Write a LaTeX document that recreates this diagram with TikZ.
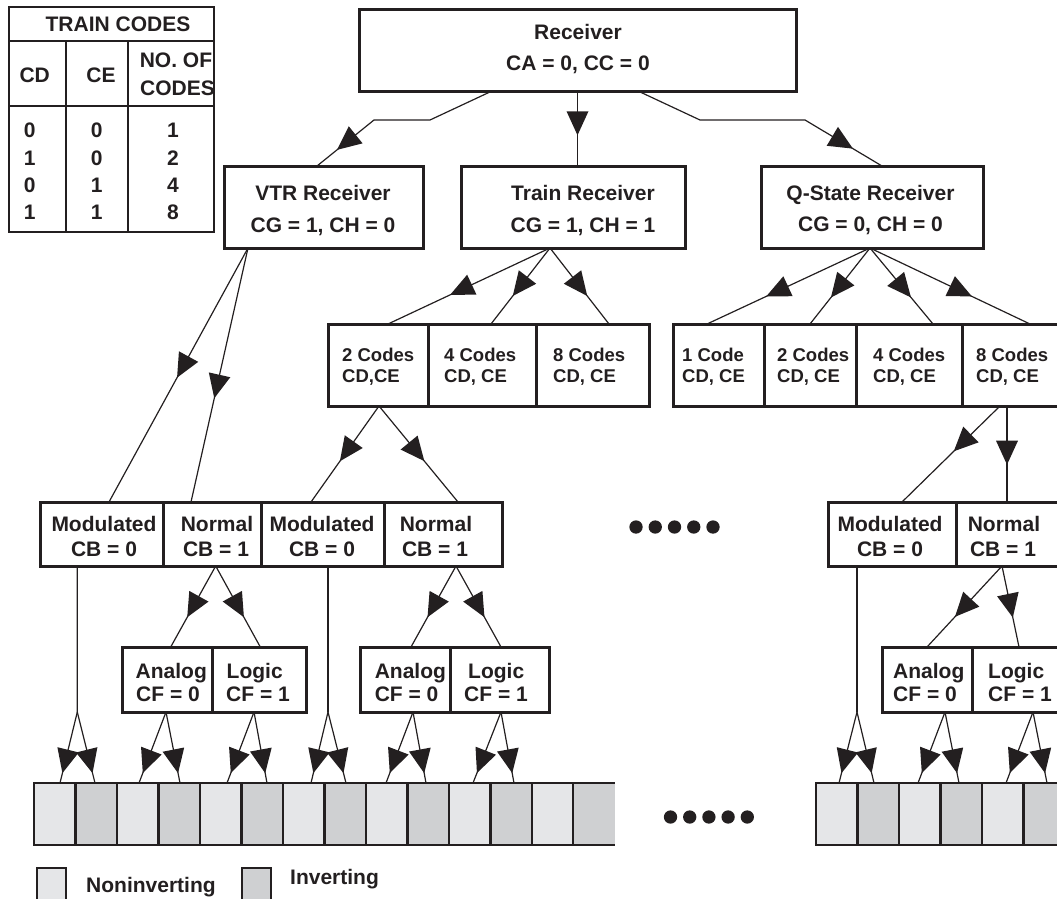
\documentclass[tikz,border=0pt]{standalone}
\usepackage{fontspec}
\setmainfont{Liberation Sans}
\usetikzlibrary{decorations.markings}
\definecolor{ink}{RGB}{35,31,32}
\definecolor{cellL}{RGB}{229,230,232}
\definecolor{cellD}{RGB}{207,208,210}
\begin{document}
\begin{tikzpicture}[x=1pt,y=-1pt,
  box/.style={draw=ink, line width=3pt, fill=white, inner sep=0pt, outer sep=0pt, minimum width=#1, minimum height=82pt},
  mbox/.style={box=#1, minimum height=64pt},
  abox/.style={box=#1, minimum height=65pt},
  conn/.style={draw=ink, line width=1.2pt},
  ma/.style={postaction={decorate}, decoration={markings, mark=at position #1 with {\fill[ink] (3pt,0pt) -- (-21pt,11pt) -- (-21pt,-11pt) -- cycle;}}},
  ma/.default=0.55,
  lbl/.style={font=\fontsize{21}{25}\selectfont\bfseries, text=ink, inner sep=0pt, text height=15pt, text depth=0pt},
  slbl/.style={font=\fontsize{18.5}{22}\selectfont\bfseries, text=ink, inner sep=0pt, text height=13.3pt, text depth=0pt, anchor=west},
  cellbox/.style={draw=ink, line width=2.5pt, inner sep=0pt, outer sep=0pt, minimum width=41.5pt, minimum height=62pt},
  dot/.style={circle, fill=ink, inner sep=0pt, minimum size=13.3pt}
]
\useasboundingbox (0,0) rectangle (1057,898);
\clip (0,0) rectangle (1057,898);

% ---------- table ----------
\draw[ink, line width=2.5pt] (9,7) rectangle (214,232);
\draw[ink, line width=1.8pt] (9,41) -- (214,41) (9,106) -- (214,106);
\draw[ink, line width=2pt] (66,41) -- (66,232) (128,41) -- (128,232);
\node[lbl] (tt) at (118,24) {TRAIN CODES};
\node[lbl] (tcd) at (34.7,75) {CD};
\node[lbl] (tce) at (101,75) {CE};
\node[lbl] (tno) at (176,60) {NO. OF};
\node[lbl] (tcodes) at (177.5,88) {CODES};
\foreach \r/\y/\a/\b/\c in {1/130/0/0/1, 2/158/1/0/2, 3/185/0/1/4, 4/212/1/1/8}{
  \node[lbl] (ta\r) at (29.7,\y) {\a};
  \node[lbl] (tb\r) at (96.7,\y) {\b};
  \node[lbl] (tc\r) at (173,\y) {\c};
}

% ---------- boxes ----------
\node[box=437pt] (rcv) at (577.5,50) {};
\node[box=199pt] (vtr) at (323.5,207) {};
\node[box=224pt] (trn) at (573,207) {};
\node[box=222pt] (qst) at (872,207) {};

\node[box=100pt] (c2) at (378,365) {};
\node[box=108pt] (c4) at (482,365) {};
\node[box=113pt] (c8) at (592.5,365) {};
\node[box=91pt] (q1) at (718.5,365) {};
\node[box=92pt] (q2) at (810,365) {};
\node[box=106pt] (q4) at (909,365) {};
\node[box=108pt] (q8) at (1016,365) {};

\node[mbox=122.5pt] (mod1) at (101.75,534) {};
\node[mbox=98pt] (norm1) at (212,534) {};
\node[mbox=123pt] (mod2) at (322.5,534) {};
\node[mbox=118pt] (norm2) at (443,534) {};
\node[mbox=128pt] (mod3) at (892,534) {};
\node[mbox=114pt] (norm3) at (1013,534) {};

\node[abox=90pt] (an1) at (167,679.5) {};
\node[abox=94pt] (lo1) at (259,679.5) {};
\node[abox=90pt] (an2) at (405,679.5) {};
\node[abox=99pt] (lo2) at (499.5,679.5) {};
\node[abox=90pt] (an3) at (927,679.5) {};
\node[abox=98pt] (lo3) at (1021,679.5) {};

% ---------- box texts ----------
\node[lbl] (rcv1) at (578,32) {Receiver};
\node[lbl] (rcv2) at (578,63) {CA = 0, CC = 0};
\node[lbl] (vtr1) at (323,192.5) {VTR Receiver};
\node[lbl] (vtr2) at (323,224.5) {CG = 1, CH = 0};
\node[lbl] (trn1) at (583,192.5) {Train Receiver};
\node[lbl] (trn2) at (583,224.5) {CG = 1, CH = 1};
\node[lbl] (qst1) at (870.5,192.5) {Q-State Receiver};
\node[lbl] (qst2) at (870.5,224) {CG = 0, CH = 0};

\node[slbl] (c2a) at (342,355) {2 Codes};
\node[slbl] (c2b) at (342,376) {CD,CE};
\node[slbl] (c4a) at (444,355) {4 Codes};
\node[slbl] (c4b) at (444,376) {CD, CE};
\node[slbl] (c8a) at (553,355) {8 Codes};
\node[slbl] (c8b) at (553,376) {CD, CE};
\node[slbl] (q1a) at (682,355) {1 Code};
\node[slbl] (q1b) at (682,376) {CD, CE};
\node[slbl] (q2a) at (777,355) {2 Codes};
\node[slbl] (q2b) at (777,376) {CD, CE};
\node[slbl] (q4a) at (873,355) {4 Codes};
\node[slbl] (q4b) at (873,376) {CD, CE};
\node[slbl] (q8a) at (976,355) {8 Codes};
\node[slbl] (q8b) at (976,376) {CD, CE};

\node[lbl] (m1a) at (104,523.5) {Modulated};
\node[lbl] (m1b) at (104,548.5) {CB = 0};
\node[lbl] (n1a) at (217,523.5) {Normal};
\node[lbl] (n1b) at (216,548.5) {CB = 1};
\node[lbl] (m2a) at (322,523.5) {Modulated};
\node[lbl] (m2b) at (322,548.5) {CB = 0};
\node[lbl] (n2a) at (436,523.5) {Normal};
\node[lbl] (n2b) at (435,548.5) {CB = 1};
\node[lbl] (m3a) at (890,523.5) {Modulated};
\node[lbl] (m3b) at (890,548.5) {CB = 0};
\node[lbl] (n3a) at (1004,523.5) {Normal};
\node[lbl] (n3b) at (1003,548.5) {CB = 1};

\node[lbl, anchor=west] (a1a) at (135.5,671) {Analog};
\node[lbl, anchor=west] (a1b) at (136,694) {CF = 0};
\node[lbl, anchor=west] (l1a) at (226.5,671) {Logic};
\node[lbl, anchor=west] (l1b) at (226,694) {CF = 1};
\node[lbl, anchor=west] (a2a) at (374.6,671) {Analog};
\node[lbl, anchor=west] (a2b) at (374.6,694) {CF = 0};
\node[lbl, anchor=west] (l2a) at (468,671) {Logic};
\node[lbl, anchor=west] (l2b) at (464,694) {CF = 1};
\node[lbl, anchor=west] (a3a) at (893,671) {Analog};
\node[lbl, anchor=west] (a3b) at (893,694) {CF = 0};
\node[lbl, anchor=west] (l3a) at (988,671) {Logic};
\node[lbl, anchor=west] (l3b) at (988,694) {CF = 1};

% ---------- cells ----------
\foreach \i/\cf in {1/cellL,2/cellD,3/cellL,4/cellD,5/cellL,6/cellD,7/cellL,8/cellD,9/cellL,10/cellD,11/cellL,12/cellD,13/cellL}{
  \node[cellbox, fill=\cf] (L\i) at ({54.75+41.5*(\i-1)},814) {};
}
\node[cellbox, draw=none, fill=cellD] (L14) at ({54.75+41.5*13},814) {};
\draw[ink, line width=2.5pt] (L14.north west) -- (L14.north east) (L14.south west) -- (L14.south east);
\foreach \i/\cf in {1/cellL,2/cellD,3/cellL,4/cellD,5/cellL,6/cellD}{
  \node[cellbox, fill=\cf] (R\i) at ({836.75+41.5*(\i-1)},814) {};
}

% ---------- dots ----------
\foreach \k in {0,...,4}{
  \node[dot] (dt\k) at ({636+19.25*\k},527) {};
  \node[dot] (db\k) at ({670.5+19.2*\k},817) {};
}

% ---------- legend ----------
\node[cellbox, fill=cellL, minimum width=29pt, minimum height=40pt] (legL) at (51.5,888) {};
\node[cellbox, fill=cellD, minimum width=29pt, minimum height=40pt] (legD) at (256.5,888) {};
\node[lbl, anchor=west] (legLt) at (86,884.5) {Noninverting};
\node[lbl, anchor=west] (legDt) at (290,877) {Inverting};

% ---------- connectors ----------
\draw[conn, ma=0.855] ([xshift=-85.5pt]rcv.south) -- (430,120) -- (374,120) -- ([xshift=-6.5pt]vtr.north);
\draw[conn, ma=0.55] (rcv.south) -- (rcv.south |- trn.north);
\draw[conn, ma=0.86] ([xshift=60.5pt]rcv.south) -- (700,120) -- (805,120) -- ([xshift=10pt]qst.north);

\draw[conn, ma=0.5] ([xshift=-75.5pt]vtr.south) -- ([xshift=7.25pt]mod1.north);
\draw[conn, ma=0.58] ([xshift=-75.5pt]vtr.south) -- ([xshift=-21pt]norm1.north);

\draw[conn, ma=0.6] ([xshift=-23pt]trn.south) -- ([xshift=10pt]c2.north);
\draw[conn, ma=0.6] ([xshift=-23pt]trn.south) -- ([xshift=9pt]c4.north);
\draw[conn, ma=0.6] ([xshift=-23pt]trn.south) -- ([xshift=16.5pt]c8.north);

\draw[conn, ma=0.62] ([xshift=-2pt]qst.south) -- ([xshift=-11.5pt]q1.north);
\draw[conn, ma=0.62] ([xshift=-2pt]qst.south) -- (q2.north);
\draw[conn, ma=0.62] ([xshift=-2pt]qst.south) -- ([xshift=24pt]q4.north);
\draw[conn, ma=0.62] ([xshift=-2pt]qst.south) -- ([xshift=14pt]q8.north);

\draw[conn, ma=0.55] ([xshift=1pt]c2.south) -- ([xshift=-11.5pt]mod2.north);
\draw[conn, ma=0.55] ([xshift=1pt]c2.south) -- ([xshift=15pt]norm2.north);

\draw[conn, ma=0.45] ([xshift=-16pt]q8.south) -- ([xshift=10pt]mod3.north);
\draw[conn, ma=0.58] ([xshift=-9pt]q8.south) -- ([xshift=-6pt]norm3.north);

\draw[conn, ma=0.6] ([xshift=3.7pt]norm1.south) -- ([xshift=3.7pt]an1.north);
\draw[conn, ma=0.6] ([xshift=3.7pt]norm1.south) -- ([xshift=1.3pt]lo1.north);
\draw[conn, ma=0.6] ([xshift=13pt]norm2.south) -- ([xshift=6pt]an2.north);
\draw[conn, ma=0.6] ([xshift=13pt]norm2.south) -- ([xshift=1.5pt]lo2.north);
\draw[conn, ma=0.6] ([xshift=-11pt]norm3.south) -- (an3.north);
\draw[conn, ma=0.6] ([xshift=-11pt]norm3.south) -- ([xshift=-2pt]lo3.north);

\coordinate (j1) at (77.3,712);
\coordinate (j2) at (328,712);
\coordinate (j3) at (857,712);
\draw[conn] ([xshift=-24.5pt]mod1.south) -- (j1);
\draw[conn] ([xshift=5.5pt]mod2.south) -- (j2);
\draw[conn] ([xshift=-35pt]mod3.south) -- (j3);

\draw[conn, ma=0.82] (j1) -- ([xshift=5.25pt]L1.north);
\draw[conn, ma=0.82] (j1) -- ([xshift=-1.25pt]L2.north);
\draw[conn, ma=0.82] ([xshift=-1pt]an1.south) -- ([xshift=1.25pt]L3.north);
\draw[conn, ma=0.82] ([xshift=-1pt]an1.south) -- ([xshift=0.75pt]L4.north);
\draw[conn, ma=0.82] ([xshift=-5pt]lo1.south) -- ([xshift=6.25pt]L5.north);
\draw[conn, ma=0.82] ([xshift=-5pt]lo1.south) -- ([xshift=4.75pt]L6.north);
\draw[conn, ma=0.82] (j2) -- ([xshift=7.25pt]L7.north);
\draw[conn, ma=0.82] (j2) -- ([xshift=0.75pt]L8.north);
\draw[conn, ma=0.82] ([xshift=8pt]an2.south) -- ([xshift=-0.75pt]L9.north);
\draw[conn, ma=0.82] ([xshift=8pt]an2.south) -- ([xshift=-2.25pt]L10.north);
\draw[conn, ma=0.82] ([xshift=1.5pt]lo2.south) -- ([xshift=3.25pt]L11.north);
\draw[conn, ma=0.82] ([xshift=1.5pt]lo2.south) -- ([xshift=2.75pt]L12.north);
\draw[conn, ma=0.82] (j3) -- ([xshift=2.25pt]R1.north);
\draw[conn, ma=0.82] (j3) -- ([xshift=-4.25pt]R2.north);
\draw[conn, ma=0.82] ([xshift=18pt]an3.south) -- ([xshift=-1.75pt]R3.north);
\draw[conn, ma=0.82] ([xshift=18pt]an3.south) -- ([xshift=-2.25pt]R4.north);
\draw[conn, ma=0.82] ([xshift=12pt]lo3.south) -- ([xshift=3.25pt]R5.north);
\draw[conn, ma=0.82] ([xshift=12pt]lo3.south) -- ([xshift=2.75pt]R6.north);
\end{tikzpicture}
\end{document}
